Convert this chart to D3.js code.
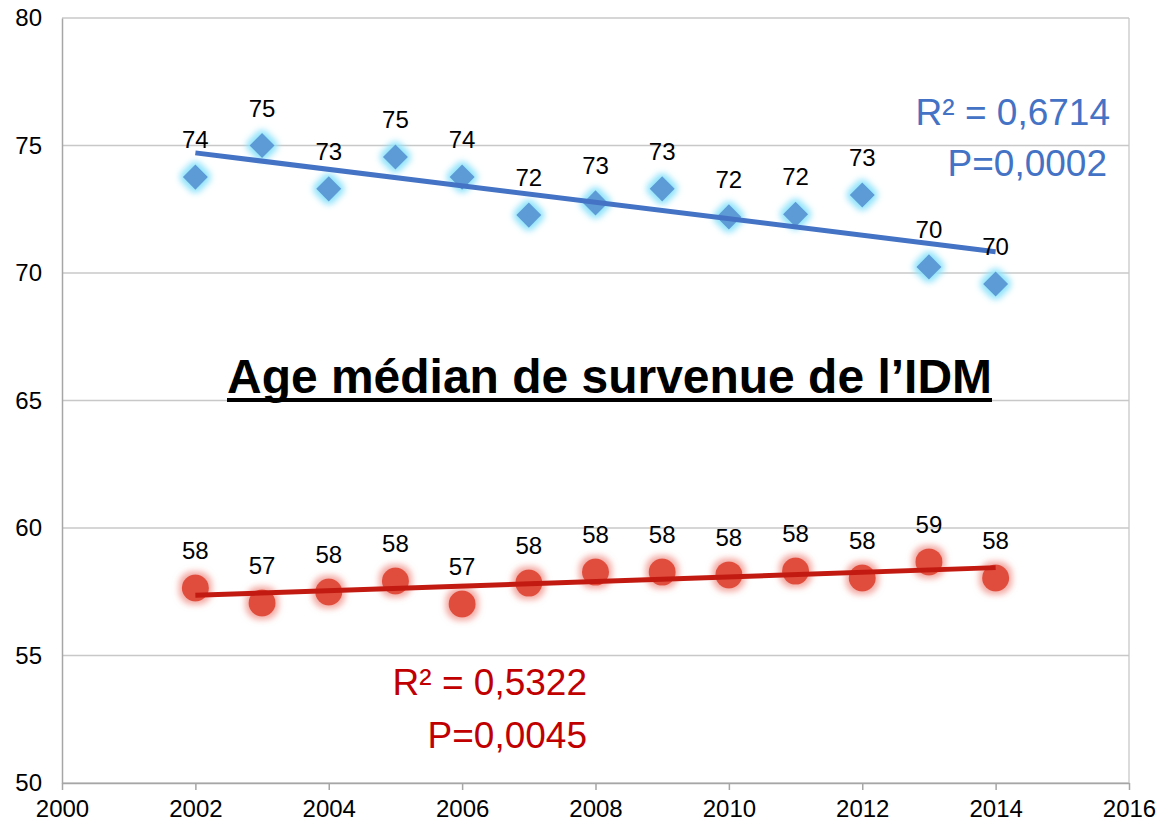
<!DOCTYPE html>
<html>
<head>
<meta charset="utf-8">
<script src="https://cdn.jsdelivr.net/npm/d3@7"></script>
<style>
  body { margin: 0; background: #fff; }
  text { font-family: "Liberation Sans", Arial, sans-serif; }
</style>
</head>
<body>
<div id="container"></div>
<script>
/* DATA */
const years = [2002, 2003, 2004, 2005, 2006, 2007, 2008, 2009, 2010, 2011, 2012, 2013, 2014];
const blueValues = [73.76, 75.0, 73.3, 74.55, 73.76, 72.27, 72.75, 73.3, 72.2, 72.3, 73.06, 70.24, 69.57];
const blueLabels = ["74", "75", "73", "75", "74", "72", "73", "73", "72", "72", "73", "70", "70"];
const redValues = [57.65, 57.06, 57.49, 57.92, 57.02, 57.84, 58.27, 58.27, 58.16, 58.31, 58.04, 58.67, 58.04];
const redLabels = ["58", "57", "58", "58", "57", "58", "58", "58", "58", "58", "58", "59", "58"];
const xTicks = [2000, 2002, 2004, 2006, 2008, 2010, 2012, 2014, 2016];
const yTicks = [50, 55, 60, 65, 70, 75, 80];
const title = "Age médian de survenue de l’IDM";
const blueStats = ["R² = 0,6714", "P=0,0002"];
const redStats = ["R² = 0,5322", "P=0,0045"];

/* LAYOUT */
const margin = {top: 18, right: 31, bottom: 42, left: 62};
const W = 1160, H = 825;
const width = W - margin.left - margin.right;
const height = H - margin.top - margin.bottom;

const svg = d3.select("#container").append("svg")
    .attr("width", W)
    .attr("height", H);

const defs = svg.append("defs");
function glow(id, color, r, sd) {
  const f = defs.append("filter").attr("id", id)
    .attr("x", "-80%").attr("y", "-80%").attr("width", "260%").attr("height", "260%");
  f.append("feMorphology").attr("in", "SourceAlpha").attr("operator", "dilate").attr("radius", r).attr("result", "d");
  f.append("feGaussianBlur").attr("in", "d").attr("stdDeviation", sd).attr("result", "b");
  f.append("feFlood").attr("flood-color", color);
  f.append("feComposite").attr("in2", "b").attr("operator", "in").attr("result", "g");
  const m = f.append("feMerge");
  m.append("feMergeNode").attr("in", "g");
  m.append("feMergeNode").attr("in", "SourceGraphic");
}
glow("glowBlue", "#8fe3fb", 3, 3);
glow("glowRed", "#f3a8a1", 3, 3);

const g = svg.append("g")
    .attr("transform", "translate(" + margin.left + "," + margin.top + ")");

const x = d3.scaleLinear().domain([2000, 2016]).range([0, width]);
const y = d3.scaleLinear().domain([50, 80]).range([height, 0]);

// gridlines
g.selectAll("line.grid")
  .data(yTicks)
  .join("line")
    .attr("class", "grid")
    .attr("x1", 0).attr("x2", width)
    .attr("y1", d => y(d)).attr("y2", d => y(d))
    .attr("stroke", "#c8c8c8")
    .attr("stroke-width", 1.3);

// right border
g.append("line")
  .attr("x1", width).attr("x2", width)
  .attr("y1", 0).attr("y2", height)
  .attr("stroke", "#c8c8c8").attr("stroke-width", 1.3);

// y axis
const yAxis = g.append("g")
  .call(d3.axisLeft(y).tickValues(yTicks).tickSize(0).tickPadding(20));
yAxis.select(".domain").attr("stroke", "#a6a6a6").attr("stroke-width", 1.5);
yAxis.selectAll("text").style("font-size", "24px").attr("fill", "#000");

// x axis
const xAxis = g.append("g")
  .attr("transform", "translate(0," + height + ")")
  .call(d3.axisBottom(x).tickValues(xTicks).tickFormat(d3.format("d")).tickSizeInner(7).tickSizeOuter(0).tickPadding(10));
xAxis.select(".domain").attr("stroke", "#a6a6a6").attr("stroke-width", 1.5);
xAxis.selectAll("line").attr("stroke", "#a6a6a6").attr("stroke-width", 1.5);
xAxis.selectAll("text").style("font-size", "24px").attr("fill", "#000");

// linear trend from the points
function trend(vals) {
  const mx = d3.mean(years), my = d3.mean(vals);
  const sxy = d3.sum(years, (d, i) => (d - mx) * (vals[i] - my));
  const sxx = d3.sum(years, d => (d - mx) * (d - mx));
  const b = sxy / sxx, a = my - b * mx;
  const x0 = years[0], x1 = years[years.length - 1];
  return [[x0, a + b * x0], [x1, a + b * x1]];
}

const line = d3.line().x(d => x(d[0])).y(d => y(d[1]));

// blue series
g.selectAll("path.diamond")
  .data(years)
  .join("path")
    .attr("class", "diamond")
    .attr("d", d3.symbol().type(d3.symbolDiamond2).size(400))
    .attr("transform", (d, i) => "translate(" + x(d) + "," + y(blueValues[i]) + ")")
    .attr("fill", "#5b9bd5")
    .attr("filter", "url(#glowBlue)");

g.append("path")
  .attr("d", line(trend(blueValues)))
  .attr("stroke", "#4472c4").attr("stroke-width", 5).attr("fill", "none");

g.selectAll("text.blab")
  .data(years)
  .join("text")
    .attr("class", "blab")
    .attr("x", d => x(d))
    .attr("y", (d, i) => y(blueValues[i]) - 29)
    .attr("text-anchor", "middle")
    .style("font-size", "24px")
    .text((d, i) => blueLabels[i]);

// red series
g.selectAll("circle.dot")
  .data(years)
  .join("circle")
    .attr("class", "dot")
    .attr("cx", d => x(d))
    .attr("cy", (d, i) => y(redValues[i]))
    .attr("r", 13.5)
    .attr("fill", "#e04e3c")
    .attr("filter", "url(#glowRed)");

g.append("path")
  .attr("d", line(trend(redValues)))
  .attr("stroke", "#c21a10").attr("stroke-width", 5).attr("fill", "none");

g.selectAll("text.rlab")
  .data(years)
  .join("text")
    .attr("class", "rlab")
    .attr("x", d => x(d))
    .attr("y", (d, i) => y(redValues[i]) - 29)
    .attr("text-anchor", "middle")
    .style("font-size", "24px")
    .text((d, i) => redLabels[i]);

// stats
svg.selectAll("text.bstat")
  .data(blueStats)
  .join("text")
    .attr("class", "bstat")
    .attr("x", (d, i) => i == 0 ? 1110 : 1107)
    .attr("y", (d, i) => 125 + i * 51)
    .attr("text-anchor", "end")
    .style("font-size", "37px")
    .attr("fill", "#4472c4")
    .text(d => d);

svg.selectAll("text.rstat")
  .data(redStats)
  .join("text")
    .attr("class", "rstat")
    .attr("x", 587)
    .attr("y", (d, i) => 695 + i * 53)
    .attr("text-anchor", "end")
    .style("font-size", "37px")
    .attr("fill", "#c00000")
    .text(d => d);

// title
svg.append("text")
  .attr("x", 227)
  .attr("y", 393)
  .style("font-family", "'Liberation Sans Narrow', 'Liberation Sans', Arial, sans-serif")
  .style("font-weight", "bold")
  .style("font-size", "48px")
  .attr("textLength", 765)
  .attr("lengthAdjust", "spacingAndGlyphs")
  .text(title);

svg.append("line")
  .attr("x1", 227).attr("x2", 992)
  .attr("y1", 400).attr("y2", 400)
  .attr("stroke", "#000").attr("stroke-width", 4);
</script>
</body>
</html>
